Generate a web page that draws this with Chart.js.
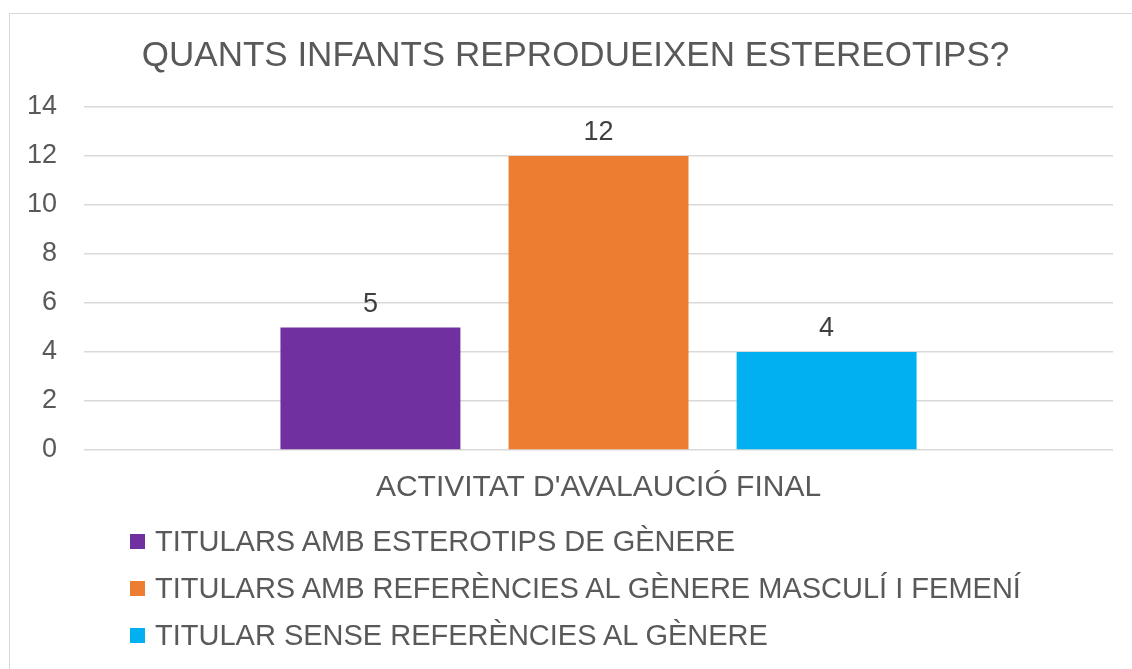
<!DOCTYPE html>
<html>
<head>
<meta charset="utf-8">
<script src="https://cdn.jsdelivr.net/npm/chart.js@4"></script>
<style>
  html, body { margin: 0; padding: 0; background: #fff; }
  body { width: 1132px; height: 669px; overflow: hidden; position: relative; font-family: "Liberation Sans", Arial, sans-serif; }
  .frame { position: absolute; left: 9px; top: 13px; width: 1200px; height: 700px; border: 1.5px solid #d9d9d9; box-sizing: border-box; }
  #wrap { position: absolute; left: 0; top: 0; width: 1132px; height: 669px; }
  #legend { position: absolute; left: 130px; top: 518px; }
  .item { height: 47px; display: flex; align-items: center; font-size: 29px; color: #595959; white-space: nowrap; }
  .box { width: 15px; height: 15px; margin-right: 10px; flex: none; }
</style>
</head>
<body>
<div class="frame"></div>
<div id="wrap"><canvas id="chart" width="1132" height="669"></canvas></div>
<div id="legend"></div>
<script>
const categories = ["ACTIVITAT D'AVALAUCIÓ FINAL"];
const seriesNames = [
    'TITULARS AMB ESTEROTIPS DE GÈNERE',
    'TITULARS AMB REFERÈNCIES AL GÈNERE MASCULÍ I FEMENÍ',
    'TITULAR SENSE REFERÈNCIES AL GÈNERE'
];
const seriesValues = [5, 12, 4];
const seriesColors = ['#7030a0', '#ed7d31', '#00b0f0'];
const yMax = 14;
const yStep = 2;

// value labels above each bar
const valueLabels = {
    id: 'valueLabels',
    afterLayout(chart) {
        // title is centred a bit right of the canvas centre in the original
        if (chart.titleBlock) chart.titleBlock.left = 38;
    },
    afterDatasetsDraw(chart) {
        const ctx = chart.ctx;
        ctx.save();
        ctx.font = '27px "Liberation Sans", Arial, sans-serif';
        ctx.fillStyle = '#404040';
        ctx.textAlign = 'center';
        ctx.textBaseline = 'alphabetic';
        chart.data.datasets.forEach(function (ds, i) {
            chart.getDatasetMeta(i).data.forEach(function (bar, j) {
                ctx.fillText(String(ds.data[j]), bar.x, bar.y - 16);
            });
        });
        ctx.restore();
    }
};

const ctx = document.getElementById('chart').getContext('2d');
new Chart(ctx, {
    type: 'bar',
    data: {
        labels: categories,
        datasets: seriesNames.map(function (name, i) {
            return {
                label: name,
                data: [seriesValues[i]],
                backgroundColor: seriesColors[i],
                categoryPercentage: 0.665,
                barPercentage: 0.789
            };
        })
    },
    options: {
        responsive: false,
        animation: false,
        layout: { padding: { left: 0, right: 19, top: 0, bottom: 151 } },
        plugins: {
            legend: { display: false },
            tooltip: { enabled: false },
            title: {
                display: true,
                text: 'QUANTS INFANTS REPRODUEIXEN ESTEREOTIPS?',
                color: '#595959',
                font: { family: '"Liberation Sans", Arial, sans-serif', size: 35, weight: 'normal' },
                padding: { top: 35, bottom: 30 }
            }
        },
        scales: {
            x: {
                grid: { display: false },
                border: { display: false },
                ticks: {
                    color: '#595959',
                    padding: 12,
                    font: { family: '"Liberation Sans", Arial, sans-serif', size: 30 }
                }
            },
            y: {
                min: 0,
                max: yMax,
                border: { display: false },
                grid: { color: '#d9d9d9', lineWidth: 1.5, drawTicks: false },
                ticks: {
                    stepSize: yStep,
                    color: '#595959',
                    padding: 27,
                    font: { family: '"Liberation Sans", Arial, sans-serif', size: 27 }
                }
            }
        }
    },
    plugins: [valueLabels]
});

const legend = document.getElementById('legend');
seriesNames.forEach(function (name, i) {
    const row = document.createElement('div');
    row.className = 'item';
    const box = document.createElement('span');
    box.className = 'box';
    box.style.background = seriesColors[i];
    row.appendChild(box);
    row.appendChild(document.createTextNode(name));
    legend.appendChild(row);
});
</script>
</body>
</html>
